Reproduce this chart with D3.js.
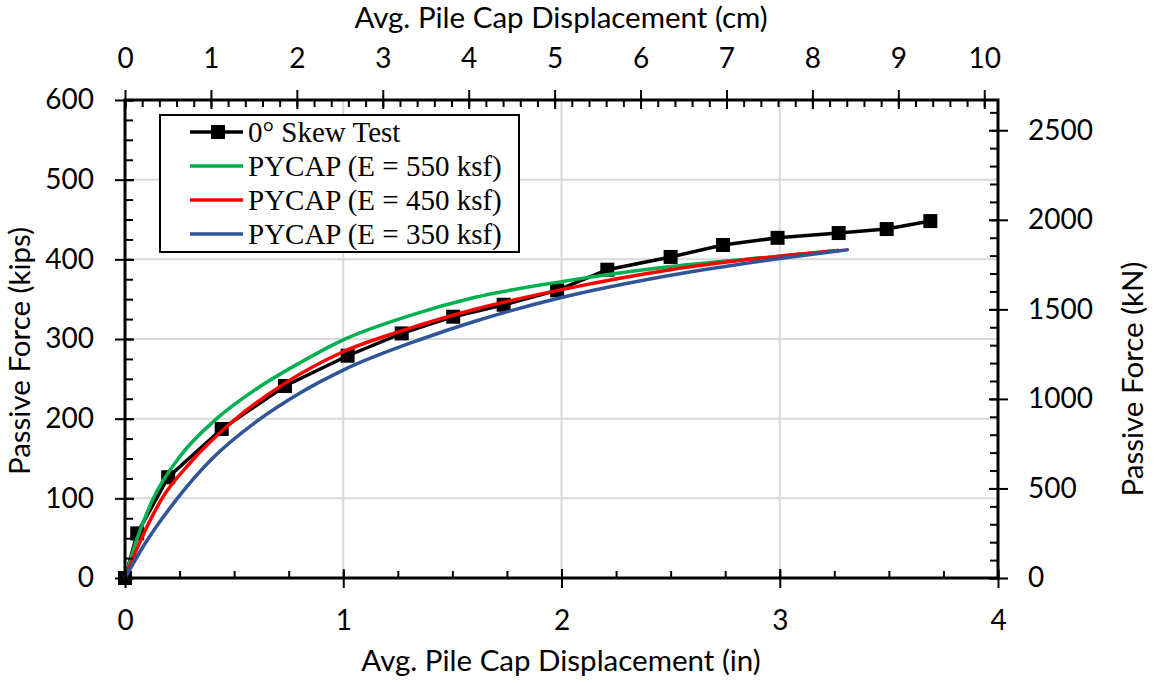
<!DOCTYPE html>
<html>
<head>
<meta charset="utf-8">
<script src="https://cdn.jsdelivr.net/npm/d3@7"></script>
<style>
  body { margin: 0; background: #fff; }
  svg text { fill: #000; }
  .tick-lbl { font-family: Lato, sans-serif; font-size: 28px; }
  .ttl { font-family: Lato, sans-serif; font-size: 29.5px; }
  .leg { font-family: "Liberation Serif", "Times New Roman", serif; font-size: 29px; }
</style>
</head>
<body>
<script>
// measured test data (in, kips)
const testX = [0, 0.056, 0.198, 0.443, 0.733, 1.02, 1.268, 1.504, 1.735, 1.98, 2.21, 2.50, 2.74, 2.99, 3.27, 3.49, 3.69];
const testY = [0, 56, 126.5, 187, 241, 279, 307, 328, 343, 361, 387, 403, 418, 427, 433, 438, 448];

// PYCAP curves
const e550X = [0, 0.05, 0.13, 0.25, 0.42, 0.6, 0.8, 1.0, 1.3, 1.6, 2.0, 2.5, 3.0, 3.27];
const e550Y = [0, 45, 100, 152, 200, 237, 270, 299, 329, 352, 372, 391, 404, 411];
const e450X = [0, 0.06, 0.17, 0.3, 0.5, 0.73, 1.0, 1.3, 1.6, 2.0, 2.5, 3.0, 3.27];
const e450Y = [0, 40, 100, 145, 198, 244, 284, 313, 337, 362, 387, 404, 411];
const e350X = [0, 0.08, 0.24, 0.4, 0.6, 0.8, 1.0, 1.36, 1.6, 2.0, 2.5, 3.0, 3.31];
const e350Y = [0, 38, 100, 150, 196, 232, 261, 300, 322, 352, 380, 401, 412];

const legendLabels = ["0\u00b0 Skew Test", "PYCAP (E = 550 ksf)", "PYCAP (E = 450 ksf)", "PYCAP (E = 350 ksf)"];
const colors = ["#000000", "#00b050", "#ff0000", "#2f5597"];

const xTicks = [0, 1, 2, 3, 4];
const cmTicks = [0, 1, 2, 3, 4, 5, 6, 7, 8, 9, 10];
const yTicks = [0, 100, 200, 300, 400, 500, 600];
const kNTicks = [0, 500, 1000, 1500, 2000, 2500];

const W = 1154, H = 683;
const plot = {left: 125, right: 998, top: 100, bottom: 578};

const svg = d3.select("body").append("svg").attr("width", W).attr("height", H);

const x = d3.scaleLinear().domain([0, 4]).range([plot.left, plot.right]);
const xcm = d3.scaleLinear().domain([0, 4 * 2.54]).range([plot.left, plot.right]);
const y = d3.scaleLinear().domain([0, 600]).range([plot.bottom, plot.top]);
const ykN = d3.scaleLinear().domain([0, 600 * 4.448222]).range([plot.bottom, plot.top]);

// gridlines
const grid = svg.append("g").attr("stroke", "#d9d9d9").attr("stroke-width", 2);
grid.selectAll(".gx").data(xTicks.slice(1, -1)).enter().append("line")
  .attr("x1", d => x(d)).attr("x2", d => x(d)).attr("y1", plot.top).attr("y2", plot.bottom);
grid.selectAll(".gy").data(yTicks.slice(1, -1)).enter().append("line")
  .attr("y1", d => y(d)).attr("y2", d => y(d)).attr("x1", plot.left).attr("x2", plot.right);

// test series first, PYCAP curves on top
const testData = d3.zip(testX, testY);
svg.append("path").datum(testData)
  .attr("fill", "none").attr("stroke", "#000").attr("stroke-width", 3.5)
  .attr("d", d3.line().x(d => x(d[0])).y(d => y(d[1])));
svg.selectAll(".mk").data(testData).enter().append("rect")
  .attr("x", d => x(d[0]) - 7).attr("y", d => y(d[1]) - 7)
  .attr("width", 14).attr("height", 14).attr("fill", "#000");

const series = [[e550X, e550Y, colors[1]], [e450X, e450Y, colors[2]], [e350X, e350Y, colors[3]]];
const smooth = d3.line().x(d => x(d[0])).y(d => y(d[1])).curve(d3.curveMonotoneX);
series.forEach(s => {
  svg.append("path").datum(d3.zip(s[0], s[1]))
    .attr("fill", "none").attr("stroke", s[2]).attr("stroke-width", 3.5)
    .attr("stroke-linecap", "round").attr("d", smooth);
});

// frame
svg.append("rect").attr("x", plot.left).attr("y", plot.top)
  .attr("width", plot.right - plot.left).attr("height", plot.bottom - plot.top)
  .attr("fill", "none").attr("stroke", "#000").attr("stroke-width", 3);

function range(a, b, s) { return d3.range(a, b + s / 2, s); }

// bottom
let g = svg.append("g").attr("transform", `translate(0,${plot.bottom})`);
g.call(d3.axisBottom(x).tickValues(xTicks).tickSize(10).tickPadding(22).tickFormat(d3.format("d")));
g.append("g").call(d3.axisTop(x).tickValues(range(0, 4, 0.25)).tickSize(7).tickFormat(""));
g.append("g").call(d3.axisTop(x).tickValues(xTicks).tickSize(9).tickFormat(""));

// top (cm)
g = svg.append("g").attr("transform", `translate(0,${plot.top})`);
g.call(d3.axisTop(xcm).tickValues(cmTicks).tickSize(10).tickPadding(22).tickFormat(d3.format("d")));
g.append("g").call(d3.axisBottom(xcm).tickValues(range(0, 10, 0.2)).tickSize(7).tickFormat(""));
g.append("g").call(d3.axisBottom(xcm).tickValues(cmTicks).tickSize(9).tickFormat(""));

// left (kips)
g = svg.append("g").attr("transform", `translate(${plot.left},0)`);
g.call(d3.axisLeft(y).tickValues(yTicks).tickSize(10).tickPadding(21).tickFormat(d3.format("d")));
g.append("g").call(d3.axisRight(y).tickValues(range(0, 600, 25)).tickSize(8).tickFormat(""));
g.append("g").call(d3.axisRight(y).tickValues(yTicks).tickSize(9).tickFormat(""));

// right (kN)
g = svg.append("g").attr("transform", `translate(${plot.right},0)`);
g.call(d3.axisRight(ykN).tickValues(kNTicks).tickSize(10).tickPadding(20).tickFormat(d3.format("d")));
g.append("g").call(d3.axisLeft(ykN).tickValues(range(0, 2600, 100)).tickSize(8).tickFormat(""));
g.append("g").call(d3.axisLeft(ykN).tickValues(kNTicks).tickSize(9).tickFormat(""));

svg.selectAll(".domain").remove();
svg.selectAll(".tick line").attr("stroke", "#000").attr("stroke-width", 2);
svg.selectAll(".tick text").attr("class", "tick-lbl").attr("font-family", null).attr("font-size", null);

// titles
svg.append("text").attr("class", "ttl").attr("x", 561).attr("y", 671).attr("text-anchor", "middle")
  .text("Avg. Pile Cap Displacement (in)");
svg.append("text").attr("class", "ttl").attr("x", 561).attr("y", 28).attr("text-anchor", "middle")
  .text("Avg. Pile Cap Displacement (cm)");
svg.append("text").attr("class", "ttl").attr("text-anchor", "middle")
  .attr("transform", "translate(30,351) rotate(-90)").text("Passive Force (kips)");
svg.append("text").attr("class", "ttl").attr("text-anchor", "middle")
  .attr("transform", "translate(1143,379) rotate(-90)").text("Passive Force (kN)");

// legend
const leg = svg.append("g");
leg.append("rect").attr("x", 160).attr("y", 115).attr("width", 359).attr("height", 137)
  .attr("fill", "#fff").attr("stroke", "#000").attr("stroke-width", 2);
legendLabels.forEach((lab, i) => {
  const cy = 132 + i * 34;
  leg.append("line").attr("x1", 190).attr("x2", 243).attr("y1", cy).attr("y2", cy)
    .attr("stroke", colors[i]).attr("stroke-width", 3.5);
  if (i === 0) {
    leg.append("rect").attr("x", 211).attr("y", cy - 7).attr("width", 14).attr("height", 14).attr("fill", "#000");
  }
  leg.append("text").attr("class", "leg").attr("x", 248).attr("y", cy + 10).text(lab);
});
</script>
</body>
</html>
